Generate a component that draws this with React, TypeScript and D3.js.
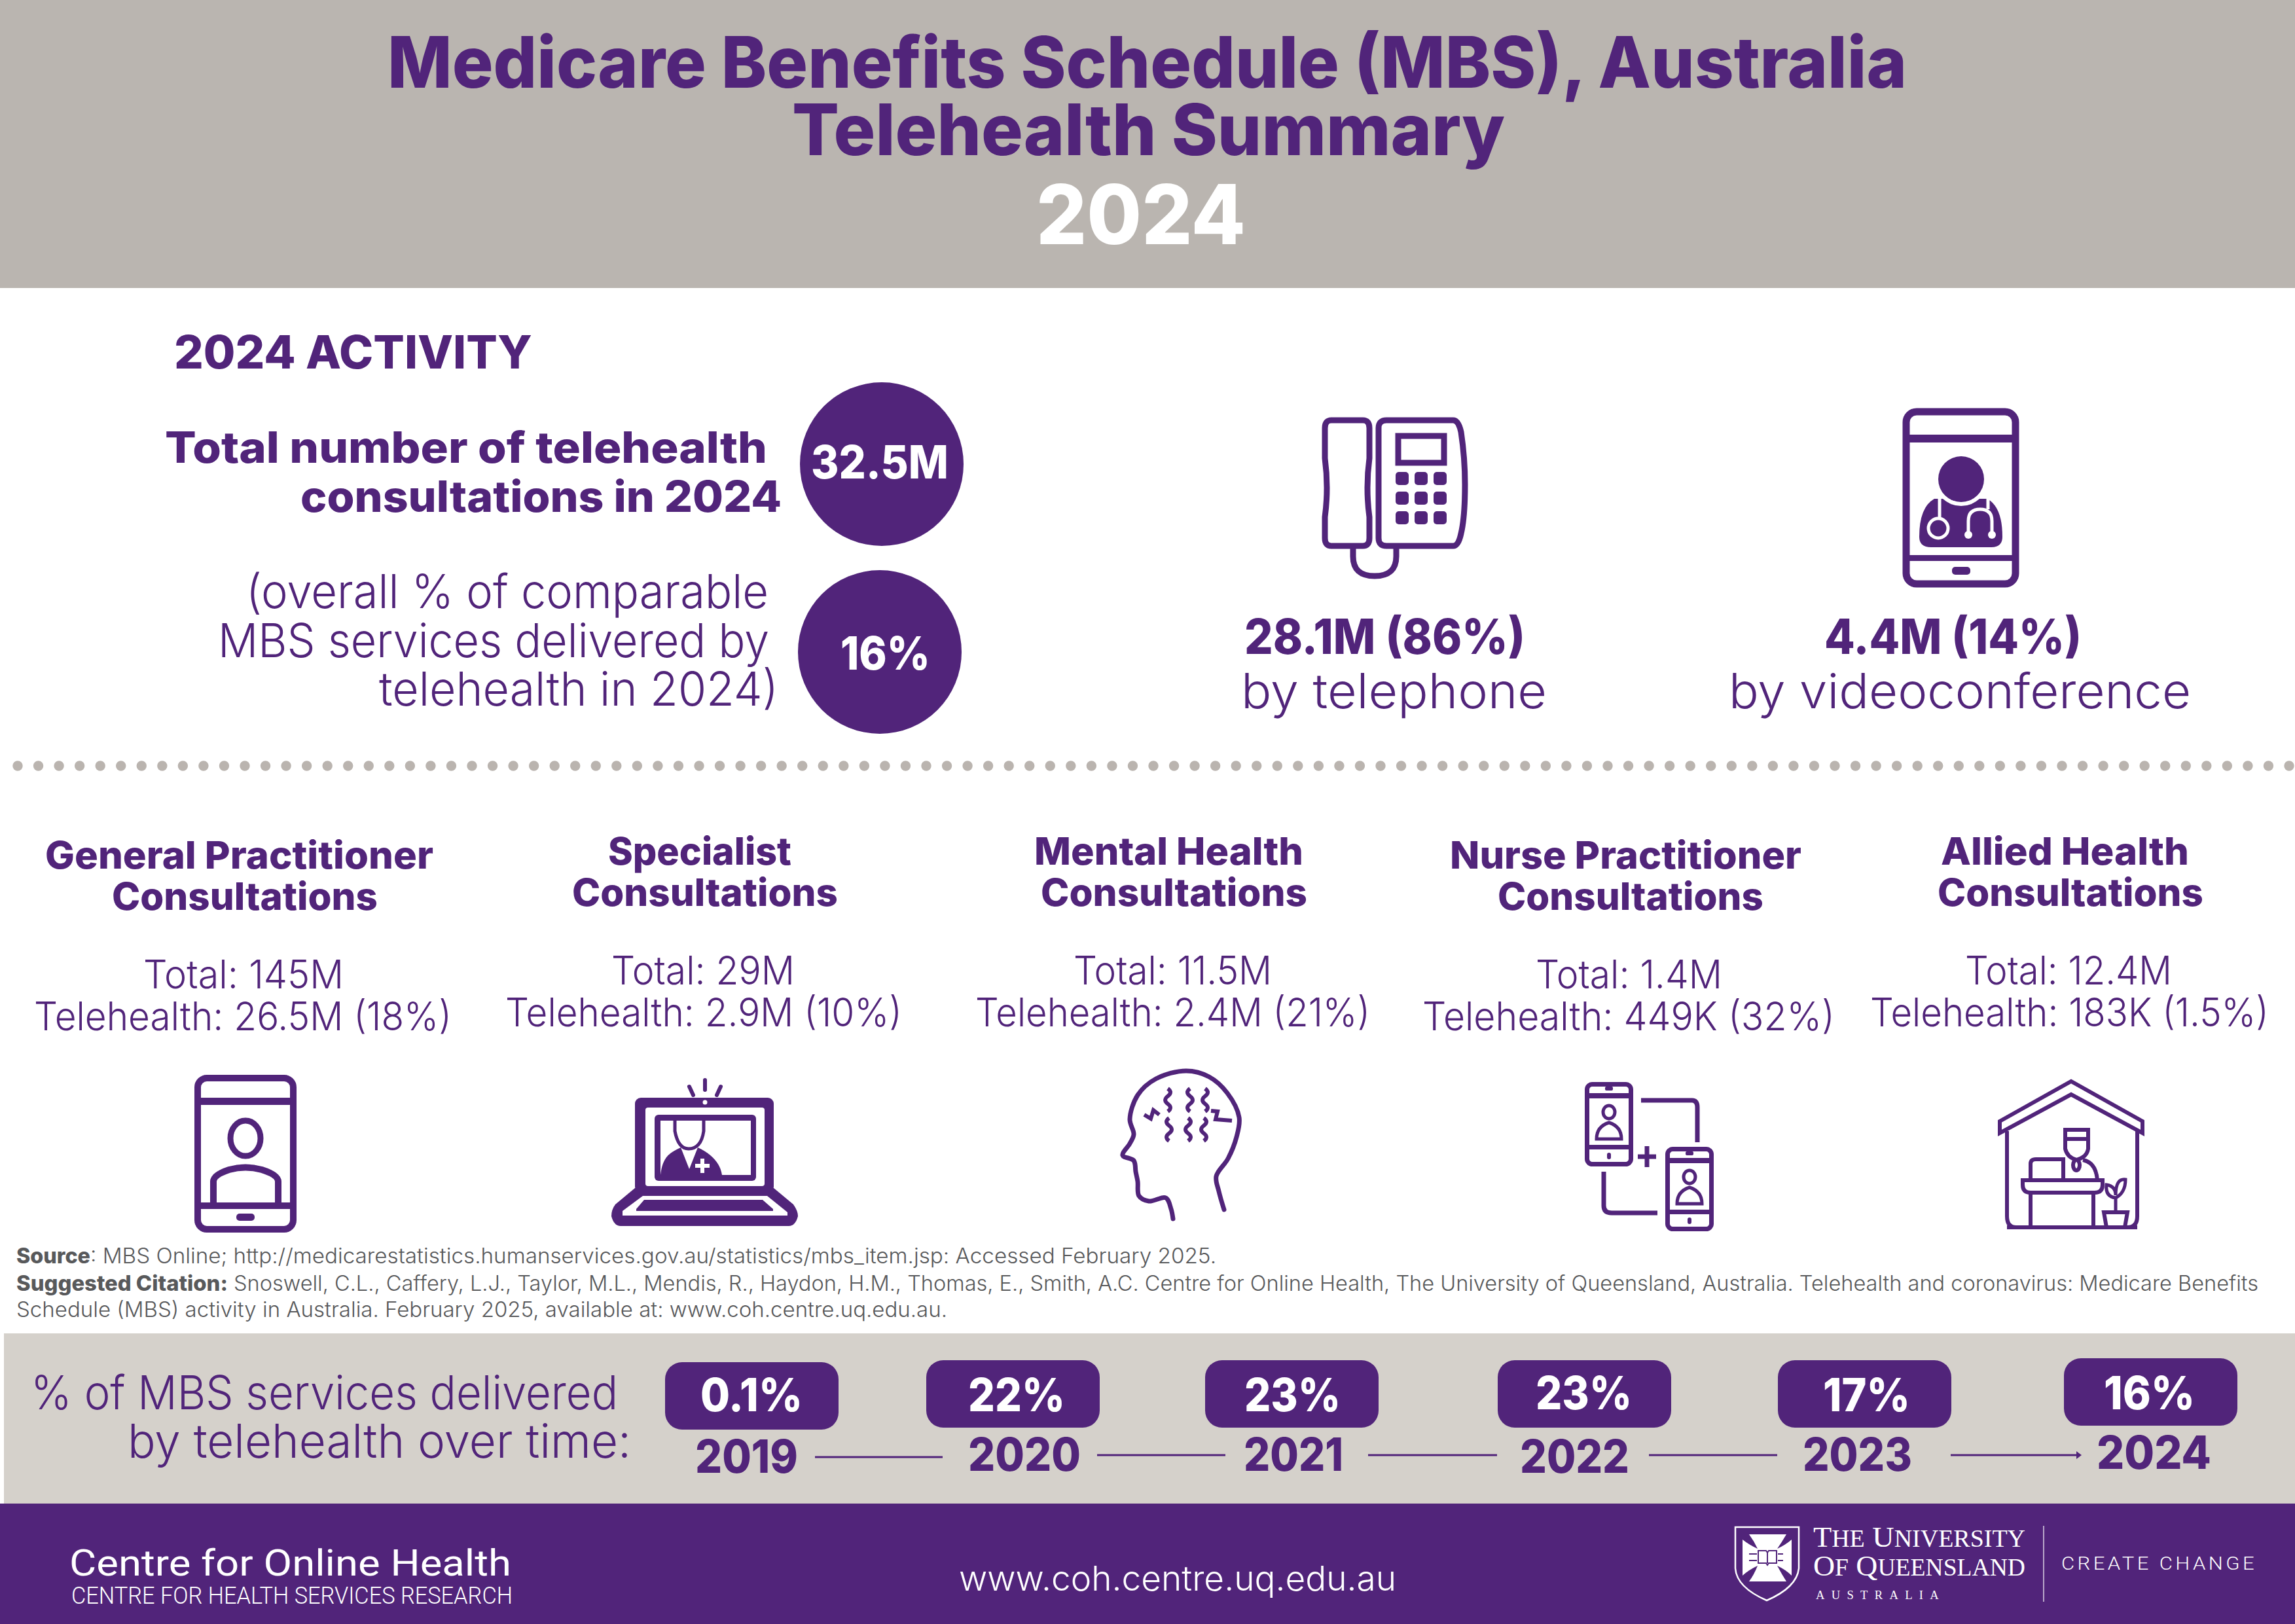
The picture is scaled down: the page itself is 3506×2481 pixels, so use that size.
import * as d3 from 'd3'

const PURPLE = '#51247a'
const SANS = 'Inter, "Open Sans", sans-serif'
const NARROW = 'Roboto, "Liberation Sans", sans-serif'
const SERIF = '"Liberation Serif", serif'

// values
const reportYear = 2024
const totalConsults = '32.5M'
const overallShare = 16
const modeNames = ['by telephone', 'by videoconference']
const modeValues = ['28.1M (86%)', '4.4M (14%)']

const categoryTitles = [
  ['General Practitioner', 'Consultations'],
  ['Specialist', 'Consultations'],
  ['Mental Health', 'Consultations'],
  ['Nurse Practitioner', 'Consultations'],
  ['Allied Health', 'Consultations'],
]
const categoryTotals = ['145M', '29M', '11.5M', '1.4M', '12.4M']
const categoryTelehealth = ['26.5M (18%)', '2.9M (10%)', '2.4M (21%)', '449K (32%)', '183K (1.5%)']

const years = [2019, 2020, 2021, 2022, 2023, 2024]
const yearShares = [0.1, 22, 23, 23, 17, 16]

// layout, kept apart from the data: [left, right] of each line as set in the poster
const categoryExtents = [
  [[69, 662], [171, 577], [219, 525], [52, 690]],
  [[929, 1209], [874, 1280], [934, 1214], [772, 1378]],
  [[1580, 1991], [1590, 1997], [1640, 1943], [1490, 2093]],
  [[2215, 2752], [2288, 2694], [2346, 2631], [2173, 2803]],
  [[2965, 3344], [2960, 3366], [3002, 3318], [2857, 3466]],
]
const categoryRowY = [1327, 1390, 1510, 1574]
const categoryDrop = [0, -6, -6, 0, -6]

const pillLeft = d3.scaleOrdinal<number, number>().domain(years).range([1016, 1415, 1841, 2288, 2716, 3153])
const pillTop = d3.scaleOrdinal<number, number>().domain(years).range([2081, 2078, 2078, 2078, 2078, 2075])
const shareText = d3.scaleOrdinal<number, number[]>().domain(years).range([[1070, 1226, 2156], [1479, 1627, 2156], [1901, 2048, 2156], [2346, 2493, 2153], [2785, 2918, 2156], [3214, 3353, 2153]])
const yearText = d3.scaleOrdinal<number, number[]>().domain(years).range([[1062, 1219, 2250], [1479, 1651, 2247], [1900, 2052, 2247], [2322, 2489, 2250], [2754, 2921, 2247], [3203, 3378, 2244]])
const linkLine = d3.scaleOrdinal<number, number[]>().domain(years.slice(0, 5)).range([[1245, 1440, 2226], [1676, 1872, 2223], [2090, 2287, 2223], [2519, 2715, 2223], [2980, 3172, 2223]])

const dotX = d3.scaleLinear().domain([0, 110]).range([27, 3497])

const T = ({ x0, x1, y, size, weight = 400, fill = PURPLE, family = SANS, style, children }: any) => (
  <text x={x0} y={y} fontSize={size} fontWeight={weight} fill={fill} fontFamily={family} style={style}
    textLength={x1 - x0} lengthAdjust="spacingAndGlyphs">{children}</text>
)

const headLine = d3.line().curve(d3.curveCatmullRom.alpha(0.5))
const headPts: [number, number][] = [[1792, 1862], [1789, 1847], [1781, 1830], [1755, 1835], [1740, 1827], [1738, 1805], [1735, 1790], [1732, 1773], [1715, 1765], [1726, 1747], [1732, 1733], [1726, 1710], [1738, 1673], [1766, 1648], [1812, 1636], [1847, 1645], [1875, 1670], [1893, 1707], [1889, 1737], [1876, 1770], [1858, 1797], [1862, 1820], [1870, 1848]]

const wiggle = (x: number, y0: number, y1: number, a: number) => {
  const h = (y1 - y0) / 3
  return `M${x},${y0} q${a * 2},${h / 2} 0,${h} q${-a * 2},${h / 2} 0,${h} q${a * 2},${h / 2} 0,${h}`
}

const TelephoneIcon = () => (
  <g fill="none" stroke={PURPLE} strokeWidth={9}>
    <path d="M2034,642 H2082 Q2092,642 2092,654 V700 Q2086,745 2092,790 V822 Q2092,834 2082,834 H2034 Q2024,834 2024,822 V790 Q2030,745 2024,700 V654 Q2024,642 2034,642 Z" />
    <path d="M2118,642 H2220 Q2228,642 2232,660 Q2238,700 2238,740 Q2238,790 2232,815 Q2228,834 2220,834 H2118 Q2106,834 2106,822 V654 Q2106,642 2118,642 Z" />
    <rect x={2136} y={666} width={70} height={41} />
    <path d="M2067,838 V850 Q2067,880 2100,880 Q2133,880 2133,850 V838" />
    {[721, 751, 781].map(y => [2132, 2161, 2190].map(x => (
      <rect key={`${x}-${y}`} x={x} y={y} width={20} height={20} rx={5} fill={PURPLE} stroke="none" />
    )))}
  </g>
)

const DoctorPhoneIcon = () => (
  <g>
    <rect x={2912} y={629} width={167} height={263} rx={16} fill="none" stroke={PURPLE} strokeWidth={11} />
    <rect x={2912} y={664} width={167} height={12} fill={PURPLE} />
    <rect x={2912} y={848} width={167} height={9} fill={PURPLE} />
    <rect x={2982} y={866} width={28} height={12} rx={5} fill={PURPLE} />
    <path d="M2955,762 Q2932,775 2932,820 Q2932,836 2950,836 H3042 Q3059,836 3059,820 Q3059,775 3036,762 Z" fill={PURPLE} />
    <circle cx={2996} cy={732} r={41} fill="#fff" />
    <circle cx={2996} cy={732} r={35} fill={PURPLE} />
    <g fill="none" stroke="#fff" strokeWidth={5}>
      <path d="M2963,762 V790" />
      <circle cx={2961} cy={807} r={15} />
      <path d="M3037,762 V778" />
      <path d="M3007,815 V796 Q3007,778 3025,778 Q3043,778 3043,796 V815" />
    </g>
    <circle cx={2961} cy={807} r={5} fill={PURPLE} />
    <circle cx={3007} cy={817} r={6} fill="#fff" />
    <circle cx={3043} cy={817} r={6} fill="#fff" />
  </g>
)

const PersonPhoneIcon = () => (
  <g fill="none" stroke={PURPLE}>
    <rect x={302} y={1647} width={146} height={231} rx={14} strokeWidth={10} />
    <rect x={297} y={1677} width={156} height={11} fill={PURPLE} stroke="none" />
    <rect x={297} y={1837} width={156} height={10} fill={PURPLE} stroke="none" />
    <ellipse cx={375} cy={1739} rx={23} ry={27} strokeWidth={9} />
    <path d="M326,1837 V1805 Q326,1795 350,1787 Q375,1780 400,1787 Q425,1795 425,1805 V1837" strokeWidth={10} />
    <rect x={361} y={1854} width={28} height={11} rx={5} fill={PURPLE} stroke="none" />
  </g>
)

const LaptopIcon = () => (
  <g>
    <path d="M1077,1650 V1665 M1053,1660 L1059,1673 M1101,1660 L1095,1673" stroke={PURPLE} strokeWidth={6} strokeLinecap="round" />
    <rect x={970} y={1677} width={212} height={145} rx={9} fill={PURPLE} />
    <circle cx={1077} cy={1684} r={3.5} fill="#fff" />
    <rect x={986} y={1692} width={182} height={120} rx={4} fill="#fff" />
    <rect x={1000} y={1703} width={155} height={101} rx={6} fill={PURPLE} />
    <rect x={1009} y={1712} width={138} height={83} fill="#fff" />
    <path d="M1031,1712 V1728 Q1036,1755 1052,1755 Q1071,1755 1075,1728 V1712" fill="none" stroke={PURPLE} strokeWidth={5} />
    <path d="M1009,1795 C1012,1770 1020,1762 1040,1753 L1053,1786 L1066,1753 C1085,1762 1100,1775 1103,1795 Z" fill={PURPLE} />
    <path d="M1073,1770 V1792 M1062,1781 H1084" stroke="#fff" strokeWidth={6} />
    <path d="M970,1815 H1182 L1212,1840 Q1219,1850 1219,1858 Q1215,1873 1205,1873 H948 Q938,1873 934,1858 Q934,1848 940,1840 Z" fill={PURPLE} />
    <path d="M982,1827 H1172 L1203,1852 V1857 H951 V1850 Z" fill="#fff" />
    <path d="M984,1833 H1165 L1181,1847 V1850 H972 V1847 Z" fill={PURPLE} />
  </g>
)

const HeadIcon = () => (
  <g fill="none" stroke={PURPLE}>
    <path d={headLine(headPts) ?? ''} strokeWidth={7} strokeLinecap="round" />
    <g strokeWidth={6}>
      <path d={wiggle(1784, 1663, 1698, 4)} />
      <path d={wiggle(1818, 1663, 1698, -4)} />
      <path d={wiggle(1841, 1663, 1698, 4)} />
      <path d={wiggle(1786, 1708, 1743, -4)} />
      <path d={wiggle(1815, 1708, 1743, 4)} />
      <path d={wiggle(1839, 1708, 1743, 4)} />
      <path d="M1748,1703 L1758,1709 L1762,1696 L1771,1703" />
      <path d="M1850,1697 L1860,1698 L1857,1710 L1882,1712" />
    </g>
  </g>
)

const SharedPhones = () => {
  const phone = (x: number, y: number) => (
    <g key={x} fill="none" stroke={PURPLE}>
      <rect x={x + 3.5} y={y + 3.5} width={67} height={122} rx={8} strokeWidth={7} />
      <rect x={x} y={y + 17} width={74} height={8} fill={PURPLE} stroke="none" />
      <rect x={x} y={y + 96} width={74} height={7} fill={PURPLE} stroke="none" />
      <rect x={x + 31} y={y + 7} width={12} height={6} rx={2} fill={PURPLE} stroke="none" />
      <ellipse cx={x + 37} cy={y + 46} rx={9} ry={10} strokeWidth={5} />
      <path d={`M${x + 18},${y + 87} Q${x + 18},${y + 68} ${x + 37},${y + 62} Q${x + 56},${y + 68} ${x + 56},${y + 87} Z`} strokeWidth={5} />
      <rect x={x + 34} y={y + 108} width={6} height={10} rx={3} fill={PURPLE} stroke="none" />
    </g>
  )
  return (
    <g>
      {phone(2421, 1653)}
      {phone(2544, 1752)}
      <path d="M2507,1681 H2585 Q2593,1681 2593,1692 V1745" fill="none" stroke={PURPLE} strokeWidth={7} />
      <path d="M2450,1790 V1842 Q2450,1853 2462,1853 H2532" fill="none" stroke={PURPLE} strokeWidth={7} />
      <path d="M2516,1751 V1783 M2502,1767 H2530" stroke={PURPLE} strokeWidth={7} />
    </g>
  )
}

const HouseIcon = () => (
  <g fill="none" stroke={PURPLE} strokeWidth={6}>
    <path d="M3055,1731 V1713 L3164,1652 L3273,1713 V1731 L3164,1672 Z" />
    <path d="M3066,1728 V1858 Q3066,1875 3080,1875 H3250 Q3265,1875 3265,1858 V1728" />
    <path d="M3066,1875 H3265" />
    {/* person behind the desk */}
    <path d="M3155,1726 H3190 V1740 H3155 Z" />
    <path d="M3155,1740 V1755 Q3158,1768 3172,1772 Q3188,1768 3190,1755 V1740" />
    <ellipse cx={3172} cy={1780} rx={5} ry={8} />
    <path d="M3102,1803 V1778 Q3102,1771 3110,1771 H3152 V1803 M3182,1772 Q3202,1776 3204,1803" />
    <path d="M3090,1803 H3212 V1810 Q3212,1822 3200,1822 H3102 Q3090,1822 3090,1810 Z" />
    <path d="M3102,1822 V1875 M3198,1822 V1875" />
    <path d="M3214,1852 H3250 L3246,1875 H3218 Z" />
    <path d="M3232,1852 V1830 Q3216,1828 3218,1810 Q3232,1812 3232,1826 Q3232,1800 3247,1802 Q3247,1822 3232,1830" strokeWidth={5} />
  </g>
)

const Crest = () => (
  <g>
    <path d="M2651,2333 H2748 V2396 Q2745,2425 2699,2445 Q2653,2425 2651,2396 Z" fill="none" stroke="#fff" strokeWidth={2.5} />
    <path d="M2672,2344 H2729 Q2722,2356 2715,2366 Q2728,2360 2737,2352 V2407 Q2728,2398 2715,2392 Q2722,2405 2729,2416 H2672 Q2680,2405 2685,2392 Q2672,2398 2662,2407 V2352 Q2672,2360 2685,2366 Q2680,2355 2672,2344 Z" fill="#fff" />
    <path d="M2686,2369 H2698 L2700,2372 L2702,2369 H2714 V2388 H2702 L2700,2391 L2698,2388 H2686 Z M2700,2372 V2388" fill="none" stroke={PURPLE} strokeWidth={2} />
    <path d="M2672,2374 H2684 M2672,2384 H2684 M2716,2374 H2724 M2716,2384 H2724" stroke={PURPLE} strokeWidth={2} />
  </g>
)

const UqLogo = () => (
  <g>
    <Crest />
    <T x0={2770} x1={3094} y={2363} size={45} fill="#fff" family={SERIF}>
      T<tspan fontSize={37}>HE</tspan> U<tspan fontSize={37}>NIVERSITY</tspan>
    </T>
    <T x0={2770} x1={3094} y={2407} size={45} fill="#fff" family={SERIF}>
      O<tspan fontSize={37}>F</tspan> Q<tspan fontSize={37}>UEENSLAND</tspan>
    </T>
    <T x0={2774} x1={2972} y={2443} size={18} fill="#fff" family={SERIF} style={{ letterSpacing: 10 }}>AUSTRALIA</T>
    <line x1={3122} x2={3122} y1={2331} y2={2447} stroke="#fff" strokeWidth={1.5} opacity={0.8} />
    <T x0={3149} x1={3448} y={2398} size={28} weight={300} fill="#fff" family="Roboto, sans-serif" style={{ letterSpacing: 4 }}>CREATE CHANGE</T>
  </g>
)

export default function App() {
  return (
    <svg width={3506} height={2481} viewBox="0 0 3506 2481" style={{ position: 'absolute', left: 0, top: 0, background: '#fff' }}>
      {/* header */}
      <rect width={3506} height={440} fill="#bab5b0" />
      <T x0={592} x1={2913} y={134} size={108} weight={800}>Medicare Benefits Schedule (MBS), Australia</T>
      <T x0={1210} x1={2299} y={237} size={108} weight={800}>Telehealth Summary</T>
      <T x0={1583} x1={1903} y={373} size={126} weight={800} fill="#fff">{reportYear}</T>

      {/* activity */}
      <T x0={266} x1={813} y={563} size={70} weight={800}>{`${reportYear} ACTIVITY`}</T>
      <T x0={252} x1={1172} y={707} size={66} weight={800}>Total number of telehealth</T>
      <T x0={459} x1={1194} y={782} size={66} weight={800}>{`consultations in ${reportYear}`}</T>
      <circle cx={1347} cy={709} r={125} fill={PURPLE} />
      <T x0={1239} x1={1449} y={731} size={70} weight={800} fill="#fff">{totalConsults}</T>
      <T x0={376} x1={1174} y={929} size={72} weight={300}>(overall % of comparable</T>
      <T x0={333} x1={1175} y={1004} size={72} weight={300}>MBS services delivered by</T>
      <T x0={579} x1={1189} y={1078} size={72} weight={300}>{`telehealth in ${reportYear})`}</T>
      <circle cx={1344} cy={996} r={125} fill={PURPLE} />
      <T x0={1284} x1={1421} y={1023} size={70} weight={800} fill="#fff">{`${overallShare}%`}</T>

      <TelephoneIcon />
      <DoctorPhoneIcon />
      <T x0={1901} x1={2330} y={999} size={74} weight={800}>{modeValues[0]}</T>
      <T x0={1896} x1={2363} y={1082} size={74} weight={300}>{modeNames[0]}</T>
      <T x0={2787} x1={3180} y={999} size={74} weight={800}>{modeValues[1]}</T>
      <T x0={2641} x1={3347} y={1082} size={74} weight={300}>{modeNames[1]}</T>

      {d3.range(111).map(i => <circle key={i} cx={dotX(i)} cy={1170} r={7.7} fill="#bab4af" />)}

      {/* categories */}
      {categoryTitles.map((title, i) => {
        const ext = categoryExtents[i]
        const ys = categoryRowY.map(y => y + categoryDrop[i])
        return (
          <g key={title[0]}>
            <T x0={ext[0][0]} x1={ext[0][1]} y={ys[0]} size={58} weight={800}>{title[0]}</T>
            <T x0={ext[1][0]} x1={ext[1][1]} y={ys[1]} size={58} weight={800}>{title[1]}</T>
            <T x0={ext[2][0]} x1={ext[2][1]} y={ys[2]} size={60} weight={300}>{`Total: ${categoryTotals[i]}`}</T>
            <T x0={ext[3][0]} x1={ext[3][1]} y={ys[3]} size={60} weight={300}>{`Telehealth: ${categoryTelehealth[i]}`}</T>
          </g>
        )
      })}

      <PersonPhoneIcon />
      <LaptopIcon />
      <HeadIcon />
      <SharedPhones />
      <HouseIcon />

      {/* source notes */}
      <T x0={25} x1={138} y={1930} size={32} weight={800} fill="#58595b">Source</T>
      <T x0={138} x1={1858} y={1930} size={32} weight={300} fill="#58595b">: MBS Online; http://medicarestatistics.humanservices.gov.au/statistics/mbs_item.jsp: Accessed February 2025.</T>
      <T x0={25} x1={348} y={1972} size={32} weight={800} fill="#58595b">Suggested Citation:</T>
      <T x0={357} x1={3450} y={1972} size={32} weight={300} fill="#58595b">Snoswell, C.L., Caffery, L.J., Taylor, M.L., Mendis, R., Haydon, H.M., Thomas, E., Smith, A.C. Centre for Online Health, The University of Queensland, Australia. Telehealth and coronavirus: Medicare Benefits</T>
      <T x0={25} x1={1447} y={2012} size={32} weight={300} fill="#58595b">Schedule (MBS) activity in Australia. February 2025, available at: www.coh.centre.uq.edu.au.</T>

      {/* timeline band */}
      <rect x={6} y={2037} width={3500} height={260} fill="#d5d1cb" />
      <T x0={47} x1={944} y={2153} size={72} weight={300}>% of MBS services delivered</T>
      <T x0={195} x1={964} y={2227} size={72} weight={300}>by telehealth over time:</T>
      {years.map((year, i) => {
        const st = shareText(year)
        const yt = yearText(year)
        const link = i < years.length - 1 ? linkLine(year) : null
        return (
          <g key={year}>
            <rect x={pillLeft(year)} y={pillTop(year)} width={265} height={103} rx={26} fill={PURPLE} />
            <T x0={st[0]} x1={st[1]} y={st[2]} size={70} weight={800} fill="#fff">{`${yearShares[i]}%`}</T>
            <T x0={yt[0]} x1={yt[1]} y={yt[2]} size={70} weight={800}>{year}</T>
            {link && <line x1={link[0]} x2={link[1]} y1={link[2]} y2={link[2]} stroke={PURPLE} strokeWidth={3} />}
            {link && i === years.length - 2 && <path d={`M${link[1]},${link[2] - 6} L${link[1] + 8},${link[2]} L${link[1]},${link[2] + 6} Z`} fill={PURPLE} />}
          </g>
        )
      })}

      {/* footer */}
      <rect y={2297} width={3506} height={184} fill={PURPLE} />
      <T x0={106} x1={781} y={2407} size={56} weight={400} fill="#fff" family={NARROW}>Centre for Online Health</T>
      <T x0={109} x1={783} y={2450} size={36} weight={300} fill="#fff" family={NARROW}>CENTRE FOR HEALTH SERVICES RESEARCH</T>
      <T x0={1465} x1={2133} y={2430} size={52} weight={300} fill="#fff">www.coh.centre.uq.edu.au</T>
      <UqLogo />
    </svg>
  )
}
